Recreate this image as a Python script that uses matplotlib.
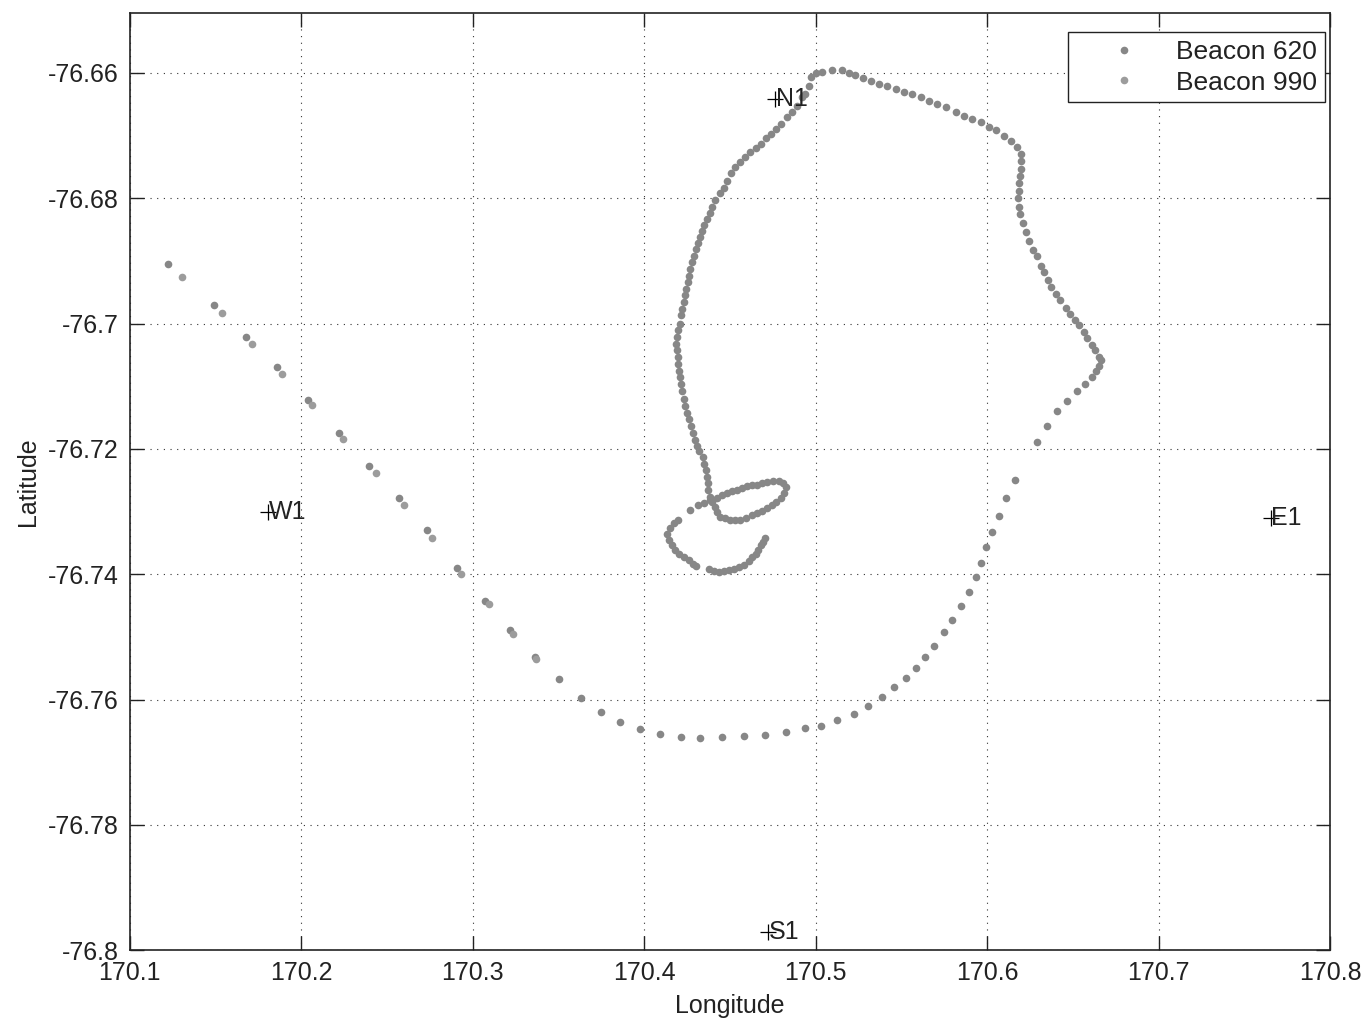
import numpy as np
import matplotlib.pyplot as plt
from matplotlib.ticker import FuncFormatter

plt.rcParams['font.family'] = ['Liberation Sans', 'DejaVu Sans']

# Beacon 620: full track (sparse southern arc + dense northern loop)
lon_620 = [
    170.1220, 170.1490, 170.1675, 170.1858, 170.2037, 170.2218, 170.2397, 170.2569,
    170.2734, 170.2907, 170.3071, 170.3218, 170.3360,
    170.3503, 170.3629, 170.3747, 170.3858, 170.3977, 170.4094, 170.4217, 170.4328,
    170.4452, 170.4583, 170.4705, 170.4826, 170.4935, 170.5032, 170.5124, 170.5221,
    170.5307, 170.5385, 170.5457, 170.5526, 170.5584, 170.5635, 170.5688, 170.5746,
    170.5797, 170.5847, 170.5894, 170.5933, 170.5962, 170.5995, 170.6026, 170.6067,
    170.6110, 170.6165, 170.6291, 170.6347, 170.6410, 170.6468, 170.6521, 170.6569,
    170.6612, 170.6635, 170.6653, 170.6663, 170.6653, 170.6628, 170.6612, 170.6585,
    170.6562, 170.6534, 170.6515, 170.6483, 170.6457, 170.6425, 170.6400, 170.6371,
    170.6355, 170.6330, 170.6312, 170.6291, 170.6266, 170.6246, 170.6227, 170.6207,
    170.6191, 170.6186, 170.6182, 170.6184, 170.6186, 170.6191, 170.6196, 170.6200,
    170.6196,
    170.6176, 170.6137, 170.6098, 170.6050, 170.6011, 170.5962, 170.5914, 170.5865,
    170.5816, 170.5758, 170.5709, 170.5660, 170.5612, 170.5563, 170.5514, 170.5466,
    170.5417, 170.5368, 170.5320, 170.5277, 170.5232, 170.5193, 170.5155, 170.5096,
    170.5038, 170.4999, 170.4974, 170.4960, 170.4940,
    170.4921, 170.4892, 170.4863, 170.4830, 170.4799, 170.4771, 170.4742, 170.4713,
    170.4682, 170.4653, 170.4619, 170.4590, 170.4561, 170.4532, 170.4507, 170.4483,
    170.4464, 170.4440, 170.4415, 170.4396, 170.4382, 170.4367, 170.4351, 170.4337,
    170.4323, 170.4312, 170.4300, 170.4288, 170.4279, 170.4269, 170.4262, 170.4253,
    170.4246, 170.4238, 170.4230, 170.4222, 170.4215, 170.4207, 170.4199, 170.4191,
    170.4187, 170.4191, 170.4195,
    170.4199, 170.4205, 170.4211, 170.4217, 170.4222, 170.4234, 170.4240, 170.4252,
    170.4263, 170.4275, 170.4287, 170.4298, 170.4310,
    170.4322, 170.4343, 170.4351, 170.4361, 170.4367, 170.4370, 170.4374, 170.4382,
    170.4396, 170.4415, 170.4425, 170.4444, 170.4473, 170.4503, 170.4532, 170.4561,
    170.4596, 170.4629, 170.4659, 170.4688, 170.4717, 170.4746, 170.4771, 170.4795,
    170.4814, 170.4824, 170.4810, 170.4785, 170.4752, 170.4717, 170.4688, 170.4659,
    170.4629, 170.4600, 170.4571, 170.4542, 170.4513, 170.4483, 170.4454, 170.4425,
    170.4386, 170.4347, 170.4312, 170.4269, 170.4195, 170.4172, 170.4148, 170.4133,
    170.4142, 170.4162, 170.4182, 170.4201, 170.4230, 170.4259, 170.4285, 170.4304,
    170.4376, 170.4405, 170.4434, 170.4464, 170.4493, 170.4522, 170.4551, 170.4580,
    170.4609, 170.4629, 170.4649, 170.4664, 170.4682, 170.4693, 170.4707,
]
lat_620 = [
    -76.6905, -76.6971, -76.7021, -76.7070, -76.7122, -76.7175, -76.7228, -76.7279,
    -76.7330, -76.7390, -76.7442, -76.7489, -76.7532,
    -76.7568, -76.7597, -76.7620, -76.7636, -76.7647, -76.7655, -76.7660, -76.7661,
    -76.7660, -76.7658, -76.7656, -76.7652, -76.7646, -76.7642, -76.7633, -76.7623,
    -76.7610, -76.7596, -76.7580, -76.7565, -76.7549, -76.7532, -76.7514, -76.7492,
    -76.7473, -76.7451, -76.7429, -76.7405, -76.7382, -76.7357, -76.7333, -76.7307,
    -76.7279, -76.7250, -76.7189, -76.7163, -76.7140, -76.7123, -76.7108, -76.7097,
    -76.7086, -76.7075, -76.7067, -76.7059, -76.7053, -76.7043, -76.7034, -76.7023,
    -76.7014, -76.7003, -76.6995, -76.6985, -76.6976, -76.6962, -76.6953, -76.6941,
    -76.6931, -76.6918, -76.6908, -76.6893, -76.6882, -76.6869, -76.6854, -76.6840,
    -76.6826, -76.6814, -76.6800, -76.6788, -76.6776, -76.6765, -76.6753, -76.6740,
    -76.6730,
    -76.6719, -76.6708, -76.6700, -76.6691, -76.6686, -76.6679, -76.6674, -76.6669,
    -76.6663, -76.6655, -76.6650, -76.6645, -76.6639, -76.6634, -76.6630, -76.6626,
    -76.6621, -76.6617, -76.6613, -76.6609, -76.6604, -76.6600, -76.6596, -76.6596,
    -76.6598, -76.6601, -76.6607, -76.6621, -76.6634,
    -76.6639, -76.6653, -76.6662, -76.6671, -76.6681, -76.6689, -76.6697, -76.6704,
    -76.6713, -76.6720, -76.6727, -76.6735, -76.6743, -76.6751, -76.6760, -76.6772,
    -76.6783, -76.6792, -76.6803, -76.6814, -76.6823, -76.6833, -76.6842, -76.6852,
    -76.6862, -76.6872, -76.6881, -76.6892, -76.6902, -76.6913, -76.6924, -76.6934,
    -76.6945, -76.6955, -76.6966, -76.6977, -76.6987, -76.7000, -76.7011, -76.7022,
    -76.7032, -76.7043, -76.7054,
    -76.7064, -76.7075, -76.7086, -76.7097, -76.7108, -76.7120, -76.7131, -76.7142,
    -76.7153, -76.7164, -76.7175, -76.7186, -76.7196,
    -76.7204, -76.7213, -76.7224, -76.7234, -76.7245, -76.7255, -76.7266, -76.7277,
    -76.7285, -76.7293, -76.7301, -76.7308, -76.7311, -76.7314, -76.7314, -76.7313,
    -76.7310, -76.7306, -76.7302, -76.7299, -76.7295, -76.7290, -76.7285, -76.7278,
    -76.7270, -76.7261, -76.7254, -76.7251, -76.7252, -76.7253, -76.7255, -76.7257,
    -76.7258, -76.7260, -76.7262, -76.7265, -76.7268, -76.7270, -76.7273, -76.7278,
    -76.7282, -76.7286, -76.7290, -76.7297, -76.7313, -76.7318, -76.7326, -76.7336,
    -76.7346, -76.7354, -76.7362, -76.7367, -76.7372, -76.7378, -76.7383, -76.7387,
    -76.7392, -76.7395, -76.7396, -76.7395, -76.7394, -76.7391, -76.7388, -76.7385,
    -76.7379, -76.7373, -76.7368, -76.7362, -76.7354, -76.7349, -76.7343,
]

# Beacon 990: visible as the second dot of each pair along the SW leg
lon_990 = [170.1305, 170.1539, 170.1714, 170.1889, 170.2064, 170.2243, 170.2434,
           170.2601, 170.2761, 170.2931, 170.3092, 170.3232, 170.3368]
lat_990 = [-76.6926, -76.6984, -76.7032, -76.7080, -76.7130, -76.7184, -76.7239,
           -76.7290, -76.7343, -76.7399, -76.7447, -76.7495, -76.7535]

# reference stations
stn_names = ['N1', 'W1', 'E1', 'S1']
stn_lon = [170.4765, 170.1806, 170.7655, 170.4724]
stn_lat = [-76.6641, -76.7301, -76.7311, -76.7971]

fig = plt.figure(figsize=(13.67, 10.25), dpi=100)
ax = fig.add_axes([0.095, 0.073, 0.878, 0.914])

ax.plot(lon_620, lat_620, 'o', ms=5.5, mfc='#878787', mec='none', label='Beacon 620')
ax.plot(lon_990, lat_990, 'o', ms=5.5, mfc='#9c9c9c', mec='none', label='Beacon 990')

ax.plot(stn_lon, stn_lat, 'k+', ms=12, mew=0.9)
for name, x, y in zip(stn_names, stn_lon, stn_lat):
    ax.text(x + 0.0002, y, name, fontsize=18, va='center', ha='left', color='#222222')

ax.set_xlim(170.1, 170.8)
ax.set_ylim(-76.8, -76.6505)
ax.set_xticks(np.arange(170.1, 170.81, 0.1))
ax.set_yticks(np.arange(-76.8, -76.659, 0.02))
fmt = FuncFormatter(lambda v, p: '%g' % round(v, 4))
ax.xaxis.set_major_formatter(fmt)
ax.yaxis.set_major_formatter(fmt)
ax.tick_params(direction='in', length=10, width=1, top=True, right=True,
               labelsize=18, pad=8, colors='#222222')
ax.grid(True, linestyle=(0, (1, 5)), color='#333333', linewidth=0.8)
for s in ax.spines.values():
    s.set_linewidth(1.2)
    s.set_color('#222222')

ax.set_xlabel('Longitude', fontsize=18, labelpad=6, color='#222222')
ax.set_ylabel('Latitude', fontsize=18, labelpad=6, color='#222222')

leg = ax.legend(loc='upper right', bbox_to_anchor=(0.996, 0.98), fontsize=19,
                frameon=True, fancybox=False, edgecolor='#222222', framealpha=1,
                borderaxespad=0.0, handlelength=3.6, handletextpad=0.2,
                borderpad=0.3, labelspacing=0.25)
leg.get_frame().set_linewidth(1.0)
for t in leg.get_texts():
    t.set_color('#222222')

fig.savefig('out.png', dpi=100)
